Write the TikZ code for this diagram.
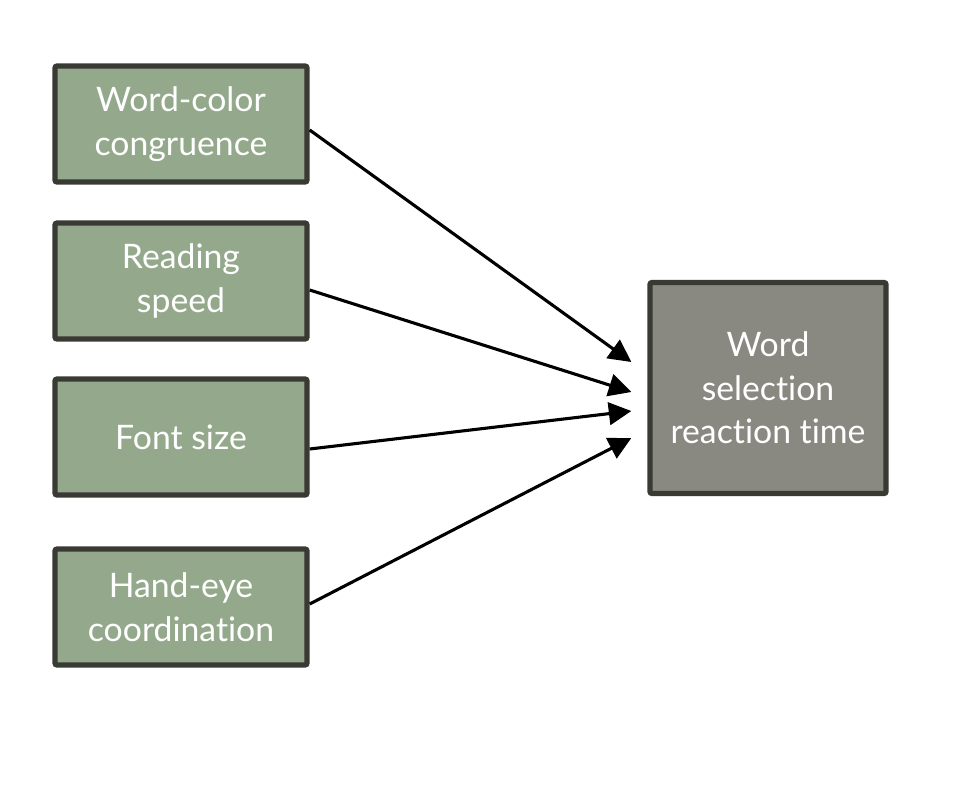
\documentclass[tikz,border=0pt]{standalone}
\usepackage{fontspec}
\setmainfont{Lato}[RawFeature={-liga;-clig;-dlig;-calt}]
\usepackage{tikz}
\usetikzlibrary{shapes,arrows.meta,positioning}

\definecolor{factgreen}{RGB}{148,169,140}
\definecolor{outgray}{RGB}{137,137,130}
\definecolor{edgedark}{RGB}{58,58,53}

\tikzset{
	factor/.style={draw=edgedark, line width=3.8pt, fill=factgreen, rounded corners=1.5pt,
		minimum width=252*0.025cm, minimum height=116*0.025cm, inner sep=0pt,
		align=center, text=white, font=\fontsize{24}{31}\selectfont},
	outcome/.style={factor, fill=outgray, minimum width=236*0.025cm, minimum height=211*0.025cm},
	link/.style={draw=black, line width=2.2pt},
	>={Triangle[length=16pt,width=16pt]}
}

\begin{document}
\begin{tikzpicture}[x=0.025cm, y=-0.025cm]
				\useasboundingbox (0,0) rectangle (980,784);
				\node[factor] (cong) at (181,124) {Word-color\\congruence};
				\node[factor] (read) at (181,281) {Reading\\speed};
				\node[factor] (font) at (181,437) {Font size};
				\node[factor] (hand) at (181,607) {Hand-eye\\coordination};
				\node[outcome] (rt) at (768,388) {Word\\selection\\reaction time};
				\coordinate (t1) at ([shift={(-16,-26)}]rt.west);
				\coordinate (t2) at ([shift={(-16,4)}]rt.west);
				\coordinate (t3) at ([shift={(-16,23)}]rt.west);
				\coordinate (t4) at ([shift={(-16,50)}]rt.west);
				\draw [->] [link] ([shift={(0,6)}]cong.east) -- (t1);
				\draw [->] [link] ([shift={(0,9)}]read.east) -- (t2);
				\draw [->] [link] ([shift={(0,12)}]font.east) -- (t3);
				\draw [->] [link] ([shift={(0,-3)}]hand.east) -- (t4);
				\end{tikzpicture}
\end{document}
